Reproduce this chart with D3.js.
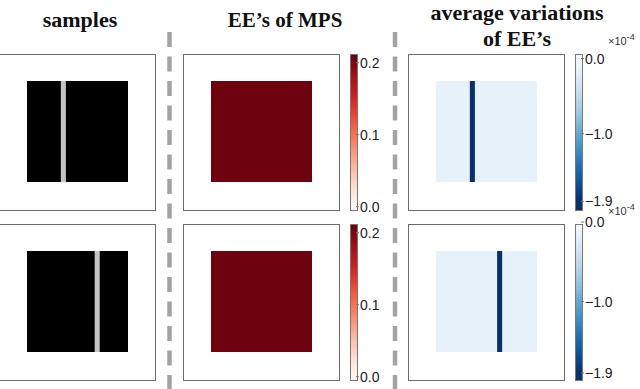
<!DOCTYPE html>
<html>
<head>
<meta charset="utf-8">
<script src="https://cdn.jsdelivr.net/npm/d3@7"></script>
<style>
  body { margin: 0; background: #fff; }
  svg { display: block; }
</style>
</head>
<body>
<svg id="chart" width="640" height="389"></svg>
<script>
// column titles
const titles = [["samples"], ["EE\u2019s of MPS"], ["average variations", "of EE\u2019s"]];

// lattice is 20 columns wide; each row has one 1-column stripe
const latticeCols = 20;
const sampleGapStart = [6.7, 13.4];   // light stripe in the samples
const varBarStart = [6.7, 12.1];      // dark stripe in the variations
const stripeWidth = 1;

// entanglement entropy of MPS (uniform) and variations (x1e-4)
const eeValue = [0.207, 0.207];
const varBase = [-0.15, -0.15];
const varBar = [-1.9, -1.9];

// colorbar ticks and limits, one per row
const eeTicks = [0.0, 0.1, 0.2];
const eeDomain = [[-0.006, 0.212], [-0.006, 0.212]];
const varTicks = [0.0, -1.0, -1.9];
const varDomain = [[-2.03, 0.06], [-2.0, -0.025]];

const svg = d3.select("#chart");

const frameX = [-1, 183, 408];
const rowY = [54, 224];
const frameSize = 157;
const innerOff = 28, innerSize = 101;
const cbarX = [350, 575], cbarW = 8;

const redColor = d3.scaleSequential(d3.interpolateReds).domain([0, 0.21]);
const blueColor = d3.scaleSequential(d3.interpolateBlues).domain([0, -1.9]);

// titles
const titleX = [80, 285, 517];
const titleY = [[27], [27], [20, 46]];
const titleSize = [22, 21, 22];
titles.forEach((lines, i) => {
    lines.forEach((t, j) => {
        svg.append("text")
            .attr("x", titleX[i])
            .attr("y", titleY[i][j])
            .attr("text-anchor", "middle")
            .attr("font-family", "Liberation Serif, Times New Roman, serif")
            .attr("font-weight", "bold")
            .attr("font-size", titleSize[i] + "px")
            .attr("fill", "#111")
            .text(t);
    });
});

// dashed separators
[169.5, 395].forEach(x => {
    svg.append("line")
        .attr("x1", x).attr("x2", x)
        .attr("y1", 32).attr("y2", 389)
        .attr("stroke", "#a3a3a3")
        .attr("stroke-width", 4.5)
        .attr("stroke-dasharray", "15 9.5");
});

// gradients for colorbars
const defs = svg.append("defs");
function addGradient(id, color, domain) {
    const g = defs.append("linearGradient").attr("id", id)
        .attr("x1", 0).attr("x2", 0).attr("y1", 1).attr("y2", 0);
    d3.range(0, 1.0001, 0.05).forEach(t => {
        const v = domain[0] + t * (domain[1] - domain[0]);
        g.append("stop").attr("offset", t).attr("stop-color", color(v));
    });
}
eeDomain.forEach((d, r) => addGradient("redGrad" + r, redColor, d));
varDomain.forEach((d, r) => addGradient("blueGrad" + r, blueColor, d));

function frame(x, y) {
    svg.append("rect")
        .attr("x", x + 0.5).attr("y", y + 0.5)
        .attr("width", frameSize - 1).attr("height", frameSize - 1)
        .attr("fill", "#fff")
        .attr("stroke", "#6b6b6b")
        .attr("stroke-width", 1);
}

function colorbar(x, y, domain, ticks, grad, fmt, expo) {
    const yScale = d3.scaleLinear().domain(domain).range([y + frameSize, y]);
    svg.append("rect")
        .attr("x", x + 0.5).attr("y", y + 0.5)
        .attr("width", cbarW - 1).attr("height", frameSize - 1)
        .attr("fill", `url(#${grad})`)
        .attr("stroke", "#777").attr("stroke-width", 1);
    const g = svg.append("g");
    g.selectAll("line").data(ticks).enter().append("line")
        .attr("x1", x + cbarW - 2).attr("x2", x + cbarW + 1)
        .attr("y1", d => yScale(d)).attr("y2", d => yScale(d))
        .attr("stroke", "#777");
    g.selectAll("text").data(ticks).enter().append("text")
        .attr("x", x + cbarW + 2)
        .attr("y", d => yScale(d))
        .attr("dy", "0.36em")
        .attr("font-family", "Liberation Sans, Arial, sans-serif")
        .attr("font-size", "14px")
        .attr("fill", "#222")
        .text(d => fmt(d));
    if (expo) {
        const t = svg.append("text")
            .attr("x", x + 33).attr("y", y - 9)
            .attr("font-family", "Liberation Sans, Arial, sans-serif")
            .attr("font-size", "11px")
            .attr("fill", "#333");
        t.append("tspan").text("\u00d710");
        t.append("tspan").attr("dy", -5).attr("font-size", "9px").text("-4");
    }
}

const fmt1 = d => d3.format(".1f")(d).replace("-", "\u2212");

rowY.forEach((y, r) => {
    const xs = i => d3.scaleLinear().domain([0, latticeCols])
        .range([frameX[i] + innerOff, frameX[i] + innerOff + innerSize]);
    const yTop = y + innerOff - 1;

    // samples
    frame(frameX[0], y);
    const s0 = xs(0);
    svg.append("rect")
        .attr("x", s0(0)).attr("y", yTop)
        .attr("width", s0(latticeCols) - s0(0)).attr("height", innerSize)
        .attr("fill", "#000");
    svg.append("rect")
        .attr("x", s0(sampleGapStart[r])).attr("y", yTop)
        .attr("width", s0(sampleGapStart[r] + stripeWidth) - s0(sampleGapStart[r]))
        .attr("height", innerSize)
        .attr("fill", "#c4c4c4");

    // EE of MPS
    frame(frameX[1], y);
    const s1 = xs(1);
    svg.append("rect")
        .attr("x", s1(0)).attr("y", yTop)
        .attr("width", s1(latticeCols) - s1(0)).attr("height", innerSize)
        .attr("fill", redColor(eeValue[r]));
    colorbar(cbarX[0], y, eeDomain[r], eeTicks, "redGrad" + r, fmt1, false);

    // average variations
    frame(frameX[2], y);
    const s2 = xs(2);
    svg.append("rect")
        .attr("x", s2(0)).attr("y", yTop)
        .attr("width", s2(latticeCols) - s2(0)).attr("height", innerSize)
        .attr("fill", blueColor(varBase[r]));
    svg.append("rect")
        .attr("x", s2(varBarStart[r])).attr("y", yTop)
        .attr("width", s2(varBarStart[r] + stripeWidth) - s2(varBarStart[r]))
        .attr("height", innerSize)
        .attr("fill", blueColor(varBar[r]));
    colorbar(cbarX[1], y, varDomain[r], varTicks, "blueGrad" + r, fmt1, true);
});
</script>
</body>
</html>
